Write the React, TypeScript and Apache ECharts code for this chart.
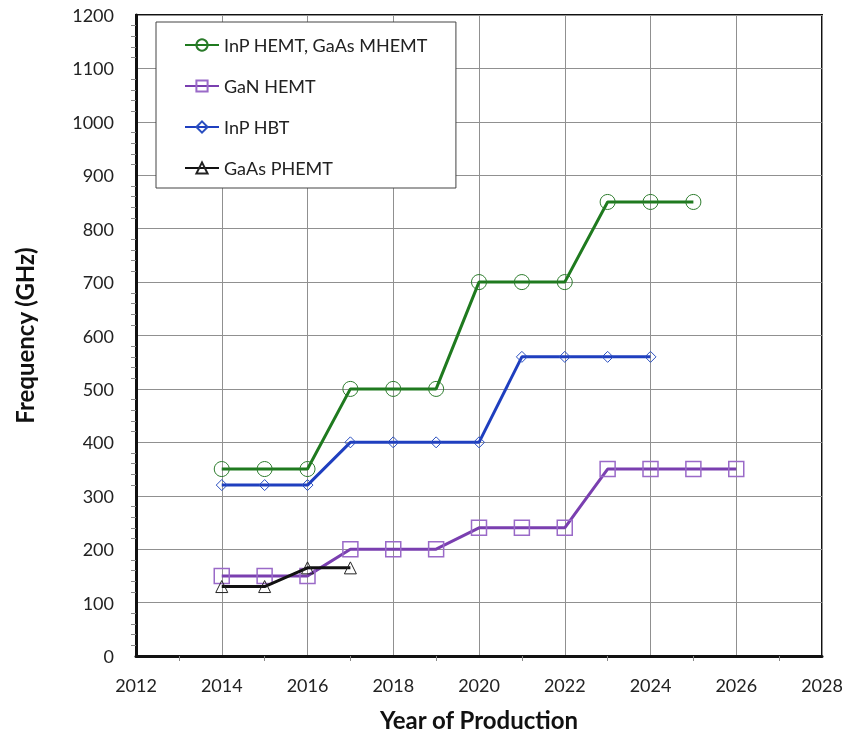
import React, { useEffect, useRef } from "react";
import * as echarts from "echarts";

const years = [2014, 2015, 2016, 2017, 2018, 2019, 2020, 2021, 2022, 2023, 2024, 2025, 2026];
const inpHemt = [350, 350, 350, 500, 500, 500, 700, 700, 700, 850, 850, 850];
const ganHemt = [150, 150, 150, 200, 200, 200, 240, 240, 240, 350, 350, 350, 350];
const inpHbt = [320, 320, 320, 400, 400, 400, 400, 560, 560, 560, 560];
const gaasPhemt = [130, 130, 165, 165];

const seriesNames = ["InP HEMT, GaAs MHEMT", "GaN HEMT", "InP HBT", "GaAs PHEMT"];

const pair = (vals: number[]) => vals.map((v, i) => [years[i], v]);

export default function App() {
  const ref = useRef<HTMLDivElement>(null);
  useEffect(() => {
    const chart = echarts.init(ref.current!, null, { renderer: "svg" });
    const font = "Lato, 'Open Sans', sans-serif";
    chart.setOption({
      animation: false,
      textStyle: { fontFamily: font },
      grid: {
        left: 136,
        top: 15,
        right: 21,
        bottom: 80,
        show: true,
        borderColor: "#111",
        borderWidth: 2,
        containLabel: false,
        outerBoundsMode: "none",
      },
      legend: {
        orient: "vertical",
        left: 156,
        top: 22,
        itemWidth: 34,
        itemHeight: 14,
        itemGap: 23,
        padding: [14, 28, 11, 28],
        backgroundColor: "#fff",
        borderColor: "#444",
        borderWidth: 1,
        textStyle: { fontSize: 18, color: "#222", fontFamily: font },
        data: seriesNames,
      },
      xAxis: {
        type: "value",
        min: 2012,
        max: 2028,
        interval: 2,
        name: "Year of Production",
        nameLocation: "middle",
        nameGap: 51,
        nameTextStyle: { fontSize: 24, fontWeight: "bold", color: "#111", fontFamily: font },
        axisLine: { show: true, lineStyle: { color: "#111", width: 3 } },
        axisTick: { show: false },
        minorTick: { show: true, splitNumber: 2, length: 5, lineStyle: { color: "#888" } },
        axisLabel: { fontSize: 18, color: "#222", margin: 20, formatter: (v: number) => String(v) },
        splitLine: { show: true, lineStyle: { color: "#909090", width: 1 } },
      },
      yAxis: {
        type: "value",
        min: 0,
        max: 1200,
        interval: 100,
        name: "Frequency (GHz)",
        nameLocation: "middle",
        nameGap: 100,
        nameTextStyle: { fontSize: 24, fontWeight: "bold", color: "#111", fontFamily: font },
        axisLine: { show: true, lineStyle: { color: "#111", width: 3 } },
        axisTick: { show: false },
        minorTick: { show: true, splitNumber: 5, length: 5, lineStyle: { color: "#888" } },
        axisLabel: { fontSize: 18, color: "#222", margin: 22, formatter: (v: number) => String(v) },
        splitLine: { show: true, lineStyle: { color: "#909090", width: 1 } },
      },
      series: [
        {
          name: seriesNames[0],
          type: "line",
          data: pair(inpHemt),
          symbol: "circle",
          symbolSize: 15,
          itemStyle: { color: "transparent", borderColor: "#2a7a2a", borderWidth: 1 },
          lineStyle: { color: "#1f7a1f", width: 3 },
          color: "#1f7a1f",
          z: 4,
        },
        {
          name: seriesNames[1],
          type: "line",
          data: pair(ganHemt),
          symbol: "rect",
          symbolSize: 15,
          itemStyle: { color: "transparent", borderColor: "#9a6ac8", borderWidth: 1.5 },
          lineStyle: { color: "#7a3fb0", width: 3 },
          color: "#7a3fb0",
          z: 3,
        },
        {
          name: seriesNames[2],
          type: "line",
          data: pair(inpHbt),
          symbol: "diamond",
          symbolSize: 11,
          itemStyle: { color: "transparent", borderColor: "#2a4fc0", borderWidth: 1 },
          lineStyle: { color: "#1f3fbf", width: 3 },
          color: "#1f3fbf",
          z: 5,
        },
        {
          name: seriesNames[3],
          type: "line",
          data: pair(gaasPhemt),
          symbol: "triangle",
          symbolSize: 12,
          itemStyle: { color: "transparent", borderColor: "#222", borderWidth: 1 },
          lineStyle: { color: "#111", width: 3 },
          color: "#111",
          z: 6,
        },
      ],
    });
    return () => chart.dispose();
  }, []);
  return (
    <div
      ref={ref}
      style={{ position: "fixed", left: 0, top: 0, width: 843, height: 736 }}
    />
  );
}
